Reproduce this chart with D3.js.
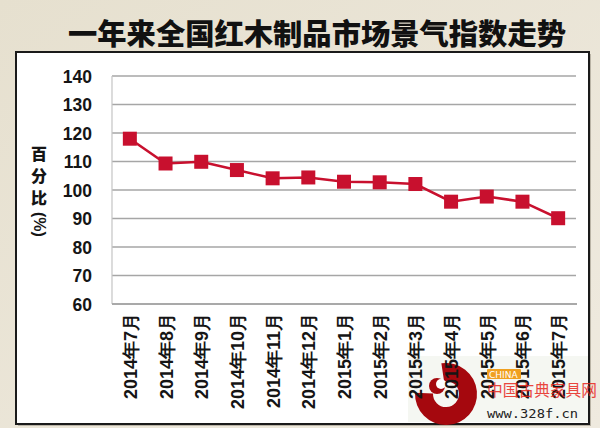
<!DOCTYPE html>
<html><head><meta charset="utf-8">
<script src="https://cdn.jsdelivr.net/npm/d3@7"></script>
<style>
html,body{margin:0;padding:0;background:#e9e4d6;}
svg{display:block;}
</style></head>
<body>
<svg id="c" width="600" height="428"></svg>
<script>
const title = "一年来全国红木制品市场景气指数走势";
const categories = ["2014年7月","2014年8月","2014年9月","2014年10月","2014年11月","2014年12月","2015年1月","2015年2月","2015年3月","2015年4月","2015年5月","2015年6月","2015年7月"];
const values = [118.0, 109.3, 109.9, 107.0, 104.1, 104.4, 102.9, 102.7, 102.1, 95.9, 97.7, 95.9, 90.1];
const yTicks = [60,70,80,90,100,110,120,130,140];
const yLabel = "百分比";
const yUnit = "(%)";

const svg = d3.select("#c");
const defs = svg.append("defs");
const bg = defs.append("linearGradient").attr("id","bg").attr("x1","0").attr("y1","0").attr("x2","1").attr("y2","1");
bg.append("stop").attr("offset","0").attr("stop-color","#e6e0cf");
bg.append("stop").attr("offset","1").attr("stop-color","#efeadf");
svg.append("rect").attr("width",600).attr("height",428).attr("fill","url(#bg)");

// title
svg.append("text").attr("x",68).attr("y",45)
  .attr("textLength",498).attr("lengthAdjust","spacingAndGlyphs")
  .style("font-family","'Noto Sans CJK SC'").style("font-weight",900).style("font-size","29px")
  .attr("fill","#111").text(title);

// panel
svg.append("rect").attr("x",18).attr("y",54).attr("width",573).attr("height",372).attr("fill","#b9b3a5");
svg.append("rect").attr("x",16).attr("y",52).attr("width",573).attr("height",372)
  .attr("fill","#fff").attr("stroke","#1a1a1a").attr("stroke-width",2);

const x = d3.scalePoint().domain(categories).range([112,576]).padding(0.5);
const y = d3.scaleLinear().domain([60,140]).range([304,76]);

// watermark background + swirl (beneath labels)
const wm = svg.append("g");
wm.append("rect").attr("x",408).attr("y",356).attr("width",180).attr("height",66).attr("fill","#eef1ea").attr("opacity",0.6);
const dr = "#a5080e";
wm.append("path").attr("transform","translate(446,394)").attr("fill",dr)
  .attr("d", d3.arc().innerRadius(13).outerRadius(31).startAngle(-0.15).endAngle(4.75)());
wm.append("circle").attr("cx",437).attr("cy",386).attr("r",8).attr("fill",dr);
wm.append("circle").attr("cx",441).attr("cy",384).attr("r",5).attr("fill","#fff");

// grid
const g = svg.append("g");
g.selectAll("line.grid").data(yTicks.filter(d=>d>60)).join("line")
  .attr("x1",112).attr("x2",576).attr("y1",d=>y(d)).attr("y2",d=>y(d))
  .attr("stroke","#a6a6a6").attr("stroke-width",1.6);
g.append("line").attr("x1",112).attr("x2",112).attr("y1",y(140)).attr("y2",y(60))
  .attr("stroke","#c4c4c4").attr("stroke-width",1.2);
g.append("line").attr("x1",112).attr("x2",577).attr("y1",y(60)).attr("y2",y(60))
  .attr("stroke","#a9a9a9").attr("stroke-width",2.2);

// y axis labels
const yAxis = d3.axisLeft(y).tickValues(yTicks).tickSize(0).tickPadding(0);
const ya = svg.append("g").attr("transform","translate(92,0)").call(yAxis);
ya.select(".domain").remove();
ya.selectAll("text").style("font-family","'Liberation Sans',Arial,sans-serif")
  .style("font-weight","bold").style("font-size","17.5px").attr("fill","#151515").attr("dy","0.36em");

// y title (vertical writing)
const yt = svg.append("text").attr("x",39).attr("y",146)
  .style("writing-mode","vertical-rl").style("font-family","'Noto Sans CJK SC'")
  .style("font-weight",900).style("font-size","16px").attr("fill","#151515");
yt.append("tspan").style("letter-spacing","6px").text(yLabel);
yt.append("tspan").style("font-family","'Liberation Sans',Arial,sans-serif").style("font-weight","bold").text(yUnit);

// x axis labels
const xAxis = d3.axisBottom(x).tickSize(0).tickPadding(0);
const xa = svg.append("g").attr("transform","translate(0,313)").call(xAxis);
xa.select(".domain").remove();
xa.selectAll("text")
  .attr("transform","rotate(-90)").attr("text-anchor","end").attr("x",0).attr("y",0).attr("dy","0.36em")
  .style("font-family","'Liberation Sans',Arial,sans-serif").style("font-size","18px").style("font-weight","bold")
  .attr("fill","#151515");

// line
const red = "#c8102e";
svg.append("path").datum(values.map((v,i)=>[categories[i],v]))
  .attr("d", d3.line().x(d=>x(d[0])).y(d=>y(d[1])))
  .attr("fill","none").attr("stroke",red).attr("stroke-width",2.6);
svg.selectAll("rect.pt").data(values.map((v,i)=>[categories[i],v])).join("rect").attr("class","pt")
  .attr("x",d=>x(d[0])-7).attr("y",d=>y(d[1])-7).attr("width",14).attr("height",14).attr("fill",red);

// watermark texts
const wt = svg.append("g");
wt.append("rect").attr("x",487).attr("y",369).attr("width",34).attr("height",10).attr("fill","#f0a020").attr("rx",1);
wt.append("text").attr("x",489).attr("y",378).style("font-family","'DejaVu Sans'").style("font-size","9px").attr("fill","#fff").text("CHINA");
wt.append("text").attr("x",487).attr("y",396).attr("textLength",110).attr("lengthAdjust","spacingAndGlyphs")
  .style("font-family","'Noto Sans CJK SC'").style("font-size","16px").attr("fill","#e8281e").attr("opacity",0.85).text("中国古典家具网");
wt.append("text").attr("x",487).attr("y",418).attr("textLength",91).attr("lengthAdjust","spacingAndGlyphs")
  .style("font-family","'DejaVu Sans Mono'").style("font-size","13px").attr("fill","#222").text("www.328f.cn");
</script>
</body></html>
